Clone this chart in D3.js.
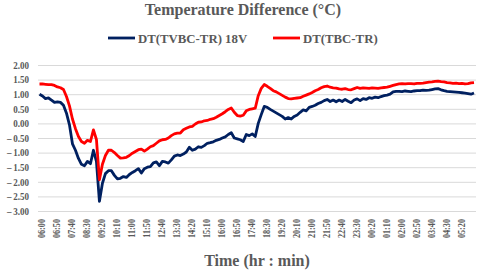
<!DOCTYPE html>
<html>
<head>
<meta charset="utf-8">
<script src="https://cdn.jsdelivr.net/npm/d3@7"></script>
<style>
  body { margin: 0; background: #fff; }
  text { font-family: "Liberation Serif", "Times New Roman", serif; font-weight: bold; fill: #595959; }
</style>
</head>
<body>
<div id="chart"></div>
<script>
// data, one value every 10 minutes starting 06:00
var tvbc = [1.00, 0.94, 0.85, 0.87, 0.80, 0.72, 0.74, 0.72, 0.62, 0.35,
  -0.05, -0.70, -0.92, -1.20, -1.40, -1.45, -1.30, -1.38, -0.92, -1.30,
  -2.67, -2.05, -1.72, -1.62, -1.62, -1.78, -1.90, -1.88, -1.82, -1.85,
  -1.75, -1.68, -1.62, -1.55, -1.70, -1.55, -1.50, -1.48, -1.35, -1.32,
  -1.45, -1.30, -1.32, -1.36, -1.25, -1.12, -1.08, -1.10, -1.05, -0.98,
  -0.82, -0.92, -0.88, -0.80, -0.82, -0.76, -0.68, -0.66, -0.63, -0.58,
  -0.55, -0.50, -0.46, -0.38, -0.32, -0.50, -0.53, -0.56, -0.62, -0.38,
  -0.42, -0.36, -0.45, 0.00, 0.30, 0.58, 0.55, 0.48, 0.42, 0.36,
  0.30, 0.24, 0.15, 0.20, 0.15, 0.24, 0.29, 0.38, 0.46, 0.43,
  0.55, 0.58, 0.62, 0.68, 0.72, 0.78, 0.82, 0.75, 0.80, 0.74,
  0.80, 0.75, 0.82, 0.76, 0.71, 0.80, 0.84, 0.78, 0.85, 0.82,
  0.88, 0.86, 0.90, 0.88, 0.92, 0.95, 0.97, 1.00, 1.08, 1.10,
  1.10, 1.09, 1.11, 1.10, 1.09, 1.11, 1.12, 1.12, 1.14, 1.13,
  1.14, 1.16, 1.18, 1.19, 1.15, 1.12, 1.10, 1.09, 1.08, 1.07,
  1.06, 1.05, 1.04, 1.02, 1.00, 1.04]

var tbc = [1.35, 1.35, 1.34, 1.33, 1.33, 1.30, 1.25, 1.22, 1.16, 0.92,
  0.60, 0.15, -0.18, -0.45, -0.62, -0.68, -0.58, -0.62, -0.22, -0.55,
  -1.93, -1.40, -1.10, -0.92, -0.92, -1.00, -1.10, -1.19, -1.18, -1.16,
  -1.10, -1.02, -0.96, -0.90, -0.88, -0.95, -0.88, -0.80, -0.76, -0.68,
  -0.60, -0.56, -0.55, -0.50, -0.42, -0.36, -0.33, -0.33, -0.22, -0.17,
  -0.12, -0.10, -0.02, 0.04, 0.05, 0.09, 0.10, 0.14, 0.16, 0.21,
  0.27, 0.33, 0.40, 0.48, 0.53, 0.38, 0.27, 0.25, 0.28, 0.43,
  0.48, 0.50, 0.52, 0.95, 1.20, 1.33, 1.27, 1.20, 1.12, 1.08,
  1.02, 0.96, 0.90, 0.85, 0.84, 0.86, 0.87, 0.88, 0.93, 0.97,
  1.01, 1.06, 1.12, 1.16, 1.22, 1.26, 1.28, 1.24, 1.22, 1.21,
  1.18, 1.17, 1.19, 1.16, 1.15, 1.19, 1.23, 1.20, 1.22, 1.21,
  1.20, 1.22, 1.21, 1.20, 1.22, 1.23, 1.24, 1.27, 1.30, 1.33,
  1.35, 1.36, 1.35, 1.36, 1.36, 1.35, 1.37, 1.37, 1.38, 1.40,
  1.41, 1.42, 1.44, 1.45, 1.43, 1.42, 1.40, 1.39, 1.37, 1.38,
  1.36, 1.37, 1.35, 1.36, 1.39, 1.40]

var seriesNames = ["DT(TVBC-TR) 18V", "DT(TBC-TR)"]
var seriesColors = ["#002060", "#ff0000"]
var yTicks = [2, 1.5, 1, 0.5, 0, -0.5, -1, -1.5, -2, -2.5, -3]

// time categories, 10 minute steps (labels every 50 min)
var fmt = d3.timeFormat("%H:%M")
var start = new Date(2020, 0, 1, 6, 0)
var idx = d3.range(tvbc.length)
var times = idx.map(i => fmt(d3.timeMinute.offset(start, i * 10)))
var xTicks = idx.filter(i => i % 5 === 0 && i <= 140)

var svgWidth = 480
var svgHeight = 271

var svg = d3.select("#chart")
  .append("svg")
  .attr("width", svgWidth)
  .attr("height", svgHeight)

var x = d3.scalePoint()
  .domain(idx)
  .range([39.5, 474])

var y = d3.scaleLinear()
  .domain([-3, 2])
  .range([211, 65])

// gridlines + y labels
var yAxis = svg.append("g")
  .attr("transform", "translate(38,0)")
  .call(d3.axisLeft(y).tickValues(yTicks).tickSize(-438).tickPadding(9)
    .tickFormat(d => (d < 0 ? "\u2013\u2009" : "") + Math.abs(d).toFixed(2)))
yAxis.select(".domain").remove()
yAxis.selectAll("line").attr("stroke", "#d9d9d9").attr("stroke-width", 1)
yAxis.selectAll("text")
  .style("font-size", "10.5px")
  .attr("fill", "#595959")
  .attr("x", 0)
  .attr("transform", "translate(-9,0) scale(0.86,1)")

// x labels, rotated
var xAxis = svg.append("g")
  .attr("transform", "translate(0,211)")
  .call(d3.axisBottom(x).tickValues(xTicks).tickSize(0).tickFormat(i => times[i]))
xAxis.select(".domain").remove()
xAxis.selectAll("text")
  .style("font-size", "10.5px")
  .attr("fill", "#595959")
  .attr("transform", "translate(1.5,8) rotate(-90) scale(0.78,1)")
  .attr("text-anchor", "end")
  .attr("dy", "0.35em")
  .attr("x", 0)
  .attr("y", 0)

// lines
var line = d3.line()
  .x((d, i) => x(i))
  .y(d => y(d))

;[tvbc, tbc].forEach(function(s, k) {
  svg.append("path")
    .datum(s)
    .attr("fill", "none")
    .attr("stroke", seriesColors[k])
    .attr("stroke-width", 2.8)
    .attr("stroke-linejoin", "round")
    .attr("d", line)
})

// title
svg.append("text")
  .attr("x", 243)
  .attr("y", 15)
  .attr("text-anchor", "middle")
  .style("font-size", "16px")
  .text("Temperature Difference (°C)")

// legend
var legendX = [108, 273]
seriesNames.forEach(function(name, k) {
  svg.append("line")
    .attr("x1", legendX[k]).attr("x2", legendX[k] + 27)
    .attr("y1", 38).attr("y2", 38)
    .attr("stroke", seriesColors[k])
    .attr("stroke-width", 2.8)
  svg.append("text")
    .attr("x", legendX[k] + 30)
    .attr("y", 42.5)
    .style("font-size", "12.8px")
    .text(name)
})

// x axis title
svg.append("text")
  .attr("x", 257)
  .attr("y", 266)
  .attr("text-anchor", "middle")
  .style("font-size", "16px")
  .text("Time (hr : min)")
</script>
</body>
</html>
